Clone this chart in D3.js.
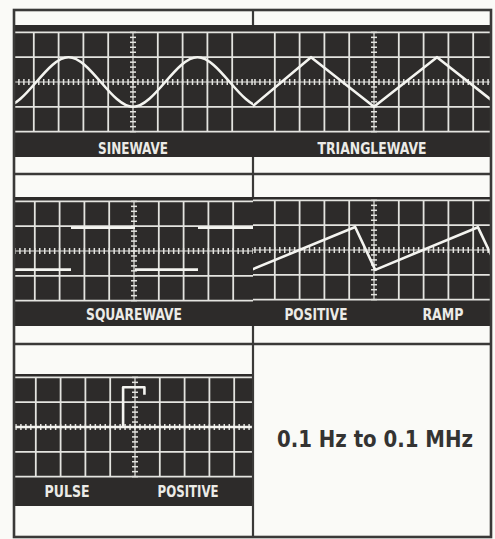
<!DOCTYPE html>
<html>
<head>
<meta charset="utf-8">
<script src="https://cdn.jsdelivr.net/npm/d3@7"></script>
<style>
  body { margin: 0; background: #fafaf7; }
  svg { display: block; }
</style>
</head>
<body>
<svg id="chart" width="495" height="539"></svg>
<script>
// waveform data, in scope divisions relative to each screen's centre (y up)
var sineX = [-6.5, -5.2, -3.9, -2.6, -1.3, 0, 1.3, 2.6, 3.9, 5.2, 6.5];
var sineY = [0, -1, 0, 1, 0, -1, 0, 1, 0, -1, 0];

var triX = [-7.4, -4.92, -2.54, 0, 2.54, 5.08];
var triY = [1, -1, 1, -1, 1, -1];

var squareX0 = [-5.0, -2.54, 0.04, 2.58];
var squareX1 = [-2.54, 0.04, 2.58, 5.0];
var squareLevel = [-0.75, 0.94, -0.75, 0.94];

var rampX = [-4.95, -0.76, 0.05, 4.19, 5.0];
var rampY = [-0.8, 0.93, -0.8, 0.92, -0.78];

var pulseX = [-0.48, -0.48, 0.38, 0.38];
var pulseY = [0, 1.6, 1.6, 1.3];
var pulseBaseX = [-5.0, 5.0];
var pulseBaseY = [0, 0];

var labelText = ["SINEWAVE", "TRIANGLEWAVE", "SQUAREWAVE", "POSITIVE", "RAMP", "PULSE", "POSITIVE"];
var labelPos = [0, -0.08, 0, -2.34, 2.78, -2.74, 2.14];
var rangeText = "0.1 Hz to 0.1 MHz";

var DIV = 24.8;
var FONT = "'DejaVu Sans Condensed', 'Liberation Sans Narrow', 'Roboto', sans-serif";
var labelWidth = [70, 109, 96, 63, 41, 45, 61];
var svg = d3.select("#chart");

svg.append("rect").attr("x", 0).attr("y", 0).attr("width", 495).attr("height", 539).attr("fill", "#fafaf7");

var panels = [
  { x0: 14, x1: 253, top: 25, bottom: 157, cx: 133, cy: 82, labelDy: 72,
    traces: [{ x: sineX, y: sineY, curve: d3.curveNatural }], labels: [0] },
  { x0: 253, x1: 491, top: 25, bottom: 157, cx: 374, cy: 82, labelDy: 72,
    traces: [{ x: triX, y: triY, curve: d3.curveLinear }], labels: [1] },
  { x0: 14, x1: 253, top: 197, bottom: 326, cx: 134, cy: 251, labelDy: 69,
    traces: squareLevel.map(function(l, i) {
      return { x: [squareX0[i], squareX1[i]], y: [l, l], curve: d3.curveLinear };
    }), labels: [2] },
  { x0: 253, x1: 491, top: 197, bottom: 326, cx: 374, cy: 250, labelDy: 70,
    traces: [{ x: rampX, y: rampY, curve: d3.curveLinear }], labels: [3, 4] },
  { x0: 14, x1: 253, top: 374, bottom: 506, cx: 135, cy: 427, labelDy: 70,
    traces: [{ x: pulseBaseX, y: pulseBaseY, curve: d3.curveLinear },
             { x: pulseX, y: pulseY, curve: d3.curveLinear }], labels: [5, 6] }
];

var defs = svg.append("defs");

panels.forEach(function(p, i) {
  var xs = d3.scaleLinear().domain([-5, 5]).range([p.cx - 5 * DIV, p.cx + 5 * DIV]);
  var ys = d3.scaleLinear().domain([-2, 2]).range([p.cy + 2 * DIV, p.cy - 2 * DIV]);

  defs.append("clipPath").attr("id", "clip" + i)
    .append("rect").attr("x", p.x0).attr("y", p.top)
    .attr("width", p.x1 - p.x0).attr("height", p.bottom - p.top);

  var g = svg.append("g").attr("clip-path", "url(#clip" + i + ")");

  g.append("rect")
    .attr("x", p.x0).attr("y", p.top)
    .attr("width", p.x1 - p.x0).attr("height", p.bottom - p.top)
    .attr("fill", "#2d2b2a");

  // graticule
  var grid = g.append("g").attr("stroke", "#e4e4e0").attr("stroke-width", 1.8);
  grid.selectAll("line.v")
    .data(d3.range(-4, 5).filter(function(k) { return k != 0; }))
    .enter().append("line")
    .attr("x1", function(d) { return xs(d); }).attr("x2", function(d) { return xs(d); })
    .attr("y1", ys(2)).attr("y2", ys(-2));
  grid.selectAll("line.h")
    .data([-2, -1, 1, 2])
    .enter().append("line")
    .attr("x1", p.x0).attr("x2", p.x1)
    .attr("y1", function(d) { return ys(d); }).attr("y2", function(d) { return ys(d); });

  // centre axes with minor ticks
  var axes = g.append("g").attr("stroke", "#e4e4e0");
  axes.append("line").attr("stroke-width", 1.2)
    .attr("x1", p.x0).attr("x2", p.x1).attr("y1", ys(0)).attr("y2", ys(0));
  axes.append("line").attr("stroke-width", 1.2)
    .attr("x1", xs(0)).attr("x2", xs(0)).attr("y1", ys(2)).attr("y2", ys(-2));
  axes.selectAll("line.tx")
    .data(d3.range(-25, 26).map(function(k) { return k / 5; }))
    .enter().append("line").attr("stroke-width", 1.5)
    .attr("x1", function(d) { return xs(d); }).attr("x2", function(d) { return xs(d); })
    .attr("y1", ys(0) - 3).attr("y2", ys(0) + 3);
  axes.selectAll("line.ty")
    .data(d3.range(-10, 11).map(function(k) { return k / 5; }))
    .enter().append("line").attr("stroke-width", 1.5)
    .attr("x1", xs(0) - 3).attr("x2", xs(0) + 3)
    .attr("y1", function(d) { return ys(d); }).attr("y2", function(d) { return ys(d); });

  // traces
  p.traces.forEach(function(t) {
    var pts = t.x.map(function(x, j) { return [x, t.y[j]]; });
    var line = d3.line()
      .x(function(d) { return xs(d[0]); })
      .y(function(d) { return ys(d[1]); })
      .curve(t.curve);
    g.append("path")
      .attr("d", line(pts))
      .attr("fill", "none")
      .attr("stroke", "#f4f4f0")
      .attr("stroke-width", 2.6)
      .attr("stroke-linejoin", "round");
  });

  // captions
  p.labels.forEach(function(li) {
    g.append("text")
      .attr("x", xs(labelPos[li]))
      .attr("y", p.cy + p.labelDy)
      .attr("text-anchor", "middle")
      .attr("font-family", FONT)
      .attr("font-weight", "bold")
      .attr("font-size", 15)
      .attr("textLength", labelWidth[li])
      .attr("lengthAdjust", "spacingAndGlyphs")
      .attr("fill", "#ecebe7")
      .text(labelText[li]);
  });
});

// borders
var border = svg.append("g").attr("stroke", "#3a3938").attr("fill", "none");
border.append("rect").attr("x", 14).attr("y", 10).attr("width", 477).attr("height", 527).attr("stroke-width", 2.6);
border.append("line").attr("x1", 14).attr("x2", 491).attr("y1", 174).attr("y2", 174).attr("stroke-width", 2.6);
border.append("line").attr("x1", 14).attr("x2", 491).attr("y1", 344).attr("y2", 344).attr("stroke-width", 2.6);
[[10, 25], [157, 197], [326, 374], [374, 537]].forEach(function(s) {
  border.append("line").attr("x1", 253).attr("x2", 253).attr("y1", s[0]).attr("y2", s[1]).attr("stroke-width", 2.2);
});

svg.append("text")
  .attr("x", 375)
  .attr("y", 447)
  .attr("text-anchor", "middle")
  .attr("font-family", FONT)
  .attr("font-weight", "bold")
  .attr("font-size", 23)
  .attr("textLength", 196)
  .attr("lengthAdjust", "spacingAndGlyphs")
  .attr("fill", "#343332")
  .text(rangeText);
</script>
</body>
</html>
